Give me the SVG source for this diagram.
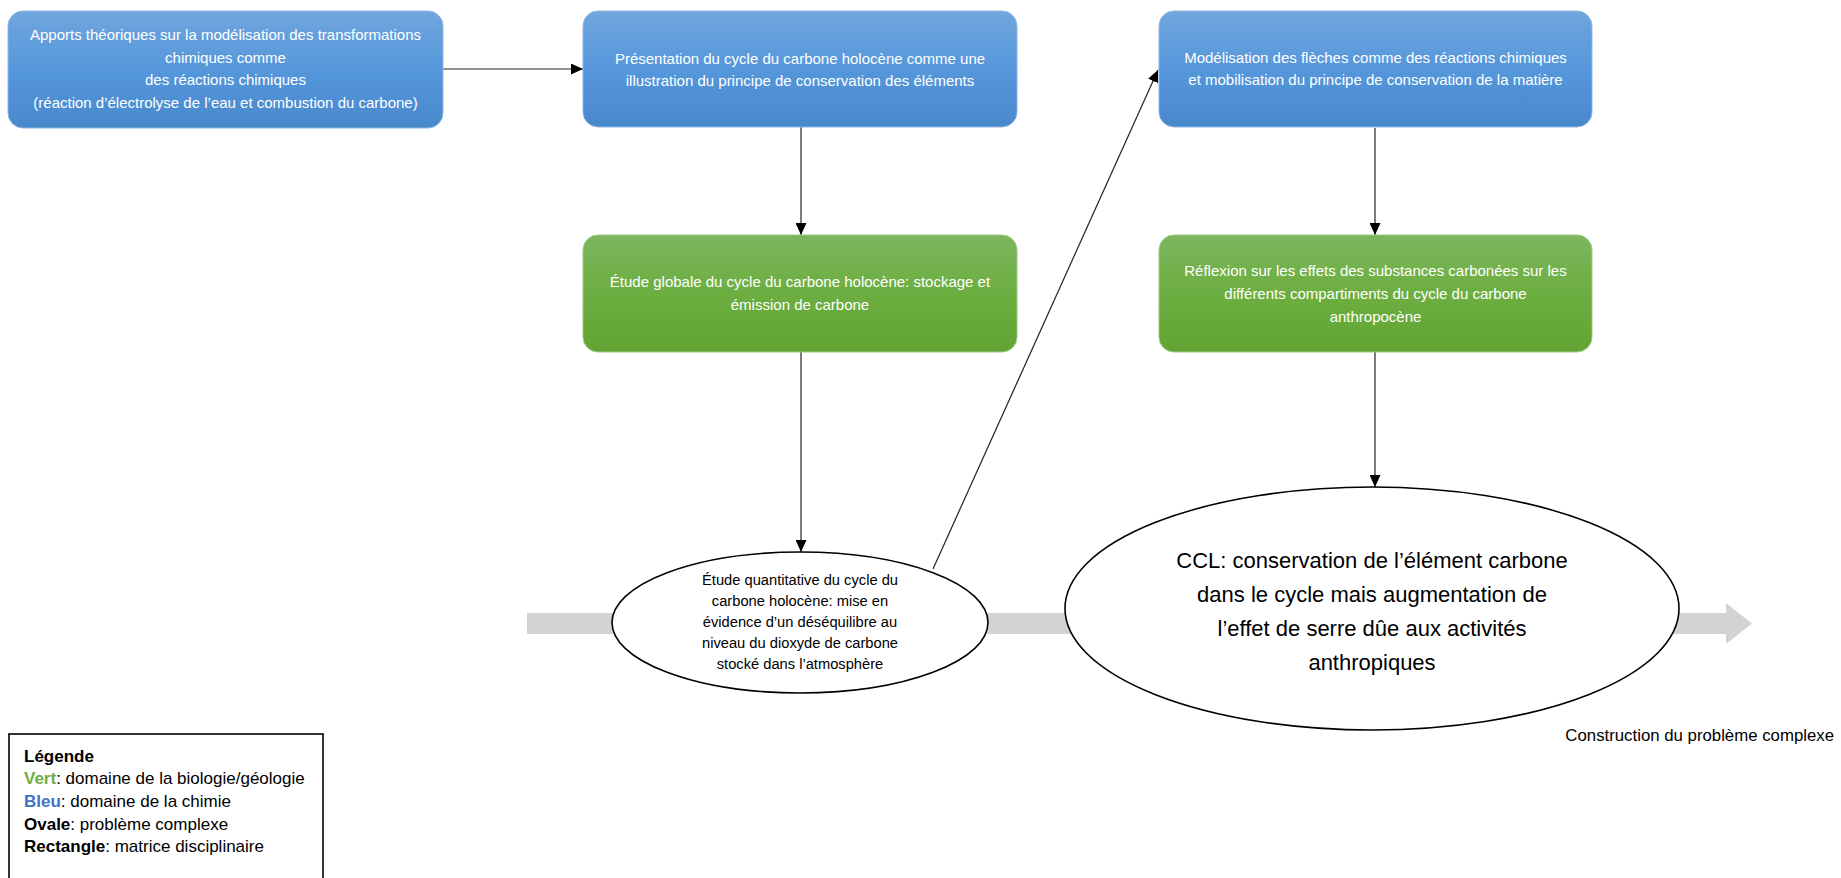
<svg xmlns="http://www.w3.org/2000/svg" width="1841" height="878" viewBox="0 0 1841 878">
<style>
.t{font-family:"Liberation Sans",Arial,sans-serif;}
.bt{fill:#ffffff;font-size:15px;text-anchor:middle;}
.et{fill:#000000;text-anchor:middle;}
.box{stroke-width:1;}
.conn{stroke:#222222;stroke-width:1.2;fill:none;marker-end:url(#ah);}
.ell{fill:#ffffff;stroke:#000000;stroke-width:1.6;}
.lg{font-size:17px;fill:#000000;}
</style>
<defs>
<linearGradient id="gb" x1="0" y1="0" x2="0" y2="1">
<stop offset="0" stop-color="#70A6DD"/>
<stop offset="0.5" stop-color="#5597DB"/>
<stop offset="1" stop-color="#4889CC"/>
</linearGradient>
<linearGradient id="gg" x1="0" y1="0" x2="0" y2="1">
<stop offset="0" stop-color="#7DB65E"/>
<stop offset="0.5" stop-color="#6CAE40"/>
<stop offset="1" stop-color="#62A433"/>
</linearGradient>
<marker id="ah" markerUnits="userSpaceOnUse" markerWidth="13" markerHeight="11" refX="12" refY="5.5" orient="auto">
<path d="M0,0 L12,5.5 L0,11 Z" fill="#000000"/>
</marker>
</defs>

<g id="progress-arrow">
<path d="M527,613 L1726,613 L1726,603 L1752,623.5 L1726,644 L1726,634 L527,634 Z" fill="#D3D3D3"/>
</g>

<g id="connectors">
<line class="conn" x1="443" y1="69" x2="583" y2="69"/>
<line class="conn" x1="801" y1="127" x2="801" y2="235"/>
<line class="conn" x1="801" y1="352" x2="801" y2="552"/>
<line class="conn" x1="933" y1="569" x2="1158" y2="70"/>
<line class="conn" x1="1375" y1="128" x2="1375" y2="235"/>
<line class="conn" x1="1375" y1="352" x2="1375" y2="487"/>
</g>

<g id="box-apports">
<rect class="box" x="8" y="11" width="435" height="117" rx="15" fill="url(#gb)" stroke="#8DB6E2"/>
<text class="t bt" x="225.5" y="40">Apports théoriques sur la modélisation des transformations</text>
<text class="t bt" x="225.5" y="62.5">chimiques comme</text>
<text class="t bt" x="225.5" y="85">des réactions chimiques</text>
<text class="t bt" x="225.5" y="108">(réaction d’électrolyse de l’eau et combustion du carbone)</text>
</g>

<g id="box-presentation">
<rect class="box" x="583" y="11" width="434" height="116" rx="15" fill="url(#gb)" stroke="#8DB6E2"/>
<text class="t bt" x="800" y="64">Présentation du cycle du carbone holocène comme une</text>
<text class="t bt" x="800" y="86">illustration du principe de conservation des éléments</text>
</g>

<g id="box-modelisation">
<rect class="box" x="1159" y="11" width="433" height="116" rx="15" fill="url(#gb)" stroke="#8DB6E2"/>
<text class="t bt" x="1375.5" y="63">Modélisation des flèches comme des réactions chimiques</text>
<text class="t bt" x="1375.5" y="85">et mobilisation du principe de conservation de la matière</text>
</g>

<g id="box-etude-globale">
<rect class="box" x="583" y="235" width="434" height="117" rx="15" fill="url(#gg)" stroke="#9CC784"/>
<text class="t bt" x="800" y="287">Étude globale du cycle du carbone holocène: stockage et</text>
<text class="t bt" x="800" y="310">émission de carbone</text>
</g>

<g id="box-reflexion">
<rect class="box" x="1159" y="235" width="433" height="117" rx="15" fill="url(#gg)" stroke="#9CC784"/>
<text class="t bt" x="1375.5" y="276">Réflexion sur les effets des substances carbonées sur les</text>
<text class="t bt" x="1375.5" y="299">différents compartiments du cycle du carbone</text>
<text class="t bt" x="1375.5" y="322">anthropocène</text>
</g>

<g id="ellipse-quantitative">
<ellipse class="ell" cx="800" cy="622.5" rx="188" ry="70.5"/>
<text class="t et" x="800" y="585" font-size="14.7">Étude quantitative du cycle du</text>
<text class="t et" x="800" y="606" font-size="14.7">carbone holocène: mise en</text>
<text class="t et" x="800" y="627" font-size="14.7">évidence d’un déséquilibre au</text>
<text class="t et" x="800" y="648" font-size="14.7">niveau du dioxyde de carbone</text>
<text class="t et" x="800" y="669" font-size="14.7">stocké dans l’atmosphère</text>
</g>

<g id="ellipse-ccl">
<ellipse class="ell" cx="1372" cy="608.5" rx="307" ry="121.5"/>
<text class="t et" x="1372" y="568" font-size="22">CCL: conservation de l’élément carbone</text>
<text class="t et" x="1372" y="602" font-size="22">dans le cycle mais augmentation de</text>
<text class="t et" x="1372" y="636" font-size="22">l’effet de serre dûe aux activités</text>
<text class="t et" x="1372" y="670" font-size="22">anthropiques</text>
</g>

<g id="label-construction">
<text class="t" x="1834" y="741" font-size="16.8" text-anchor="end" fill="#000000">Construction du problème complexe</text>
</g>

<g id="legend">
<rect x="9" y="734" width="314" height="150" fill="#ffffff" stroke="#000000" stroke-width="1.6"/>
<text class="t lg" x="24" y="762" font-weight="bold">Légende</text>
<text class="t lg" x="24" y="784"><tspan font-weight="bold" fill="#70AD47">Vert</tspan>: domaine de la biologie/géologie</text>
<text class="t lg" x="24" y="807"><tspan font-weight="bold" fill="#4472C4">Bleu</tspan>: domaine de la chimie</text>
<text class="t lg" x="24" y="830"><tspan font-weight="bold">Ovale</tspan>: problème complexe</text>
<text class="t lg" x="24" y="852"><tspan font-weight="bold">Rectangle</tspan>: matrice disciplinaire</text>
</g>
</svg>
